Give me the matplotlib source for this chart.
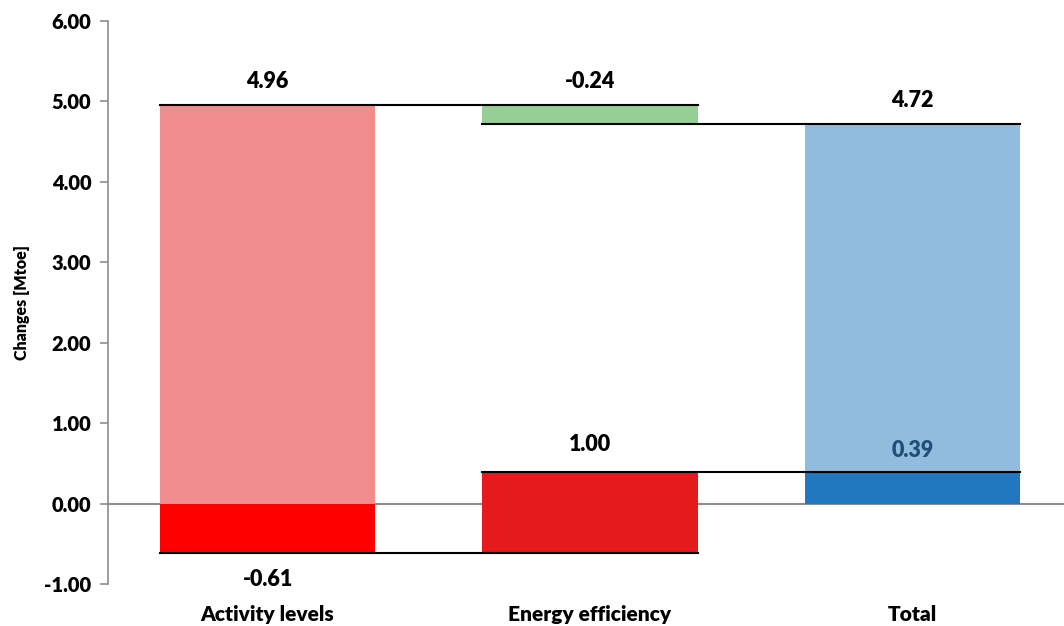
import numpy as np
import matplotlib
matplotlib.use("Agg")
import matplotlib.pyplot as plt

plt.rcParams['font.family'] = ['Lato', 'DejaVu Sans']
plt.rcParams['font.weight'] = 'heavy'

categories = ["Activity levels", "Energy efficiency", "Total"]
upper_vals = [4.96, -0.24, 4.72]   # light / first series
lower_vals = [-0.61, 1.00, 0.39]   # dark / second series

upper_colors = ["#F08C8C", "#95CF95", "#91BCDD"]
lower_colors = ["#FF0000", "#E41A1C", "#2178BE"]

x = np.arange(len(categories))
w = 0.668

# waterfall bases
upper_base = [0, upper_vals[0], 0]
lower_base = [0, lower_vals[0], 0]

fig = plt.figure(figsize=(10.64, 6.26), dpi=100)
ax = fig.add_axes([0.1015, 0.067, 0.8985, 0.8995])

ax.axhline(0, color="#8c8c8c", lw=1.5, zorder=1)

ax.bar(x, upper_vals, w, bottom=upper_base, color=upper_colors, zorder=2)
ax.bar(x, lower_vals, w, bottom=lower_base, color=lower_colors, zorder=3)

# connector lines
up_lvl = [upper_vals[0], upper_vals[0] + upper_vals[1]]
lo_lvl = [lower_vals[0], lower_vals[0] + lower_vals[1]]
for i in range(2):
    ax.plot([x[i] - w / 2, x[i + 1] + w / 2], [up_lvl[i], up_lvl[i]], color="black", lw=1.5, zorder=4)
    ax.plot([x[i] - w / 2, x[i + 1] + w / 2], [lo_lvl[i], lo_lvl[i]], color="black", lw=1.5, zorder=4)

# labels
fs = 15.5
wt = "heavy"
up_tops = [upper_vals[0], upper_vals[0], upper_vals[2]]
for i in range(3):
    ax.annotate(f"{upper_vals[i]:.2f}", (x[i], up_tops[i]), xytext=(0, 17), textcoords="offset points",
                ha="center", va="center", fontsize=fs, fontweight=wt, color="black")

ax.annotate(f"{lower_vals[0]:.2f}", (x[0], lower_vals[0]), xytext=(0, -19), textcoords="offset points",
            ha="center", va="center", fontsize=fs, fontweight=wt, color="black")
ax.annotate(f"{lower_vals[1]:.2f}", (x[1], lo_lvl[1]), xytext=(0, 20), textcoords="offset points",
            ha="center", va="center", fontsize=fs, fontweight=wt, color="black")
ax.annotate(f"{lower_vals[2]:.2f}", (x[2], lower_vals[2]), xytext=(0, 16), textcoords="offset points",
            ha="center", va="center", fontsize=fs, fontweight=wt, color="#1F4E79")

ax.set_ylim(-1, 6)
ax.set_xlim(-0.495, 2.47)
ax.set_yticks(np.arange(-1, 7, 1))
ax.set_yticklabels([f"{v:.2f}" for v in np.arange(-1, 7, 1)], fontsize=14.5, fontweight=wt)
ax.set_xticks(x)
ax.set_xticklabels(categories, fontsize=15, fontweight=wt)
ax.tick_params(axis="x", length=0, pad=15)
ax.tick_params(axis="y", length=6, color="#8c8c8c", width=1.2, pad=6)
ax.set_ylabel("Changes [Mtoe]", fontsize=11.5, fontweight=wt, labelpad=10)

for s in ["top", "right", "bottom"]:
    ax.spines[s].set_visible(False)
ax.spines["left"].set_color("#8c8c8c")
ax.spines["left"].set_linewidth(1.2)

fig.savefig("out.png", dpi=100)
